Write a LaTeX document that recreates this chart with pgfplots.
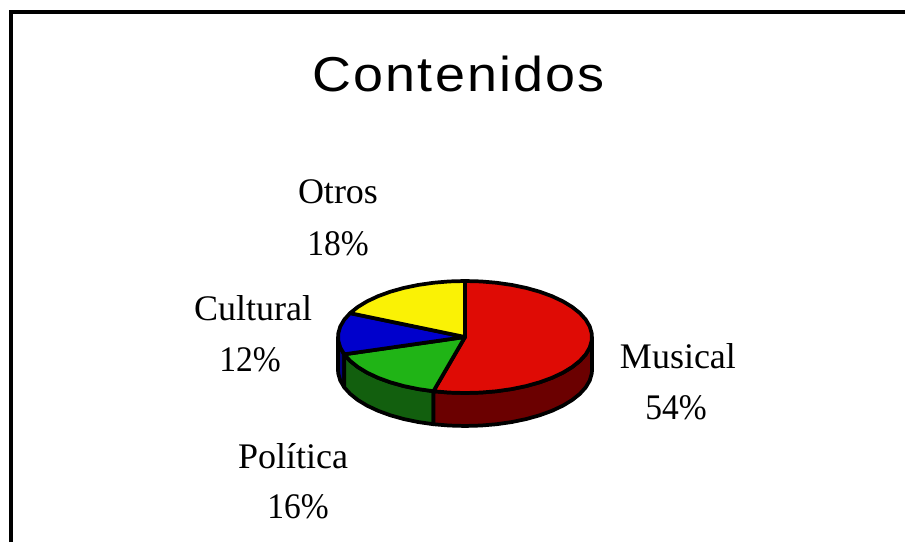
\documentclass[border=0pt]{standalone}
\usepackage{pgfplots}
\pgfplotsset{compat=1.18}
\usepackage{fontspec}
\setmainfont{Liberation Serif}
\newfontfamily\titlefont[LetterSpace=4]{Liberation Sans}
\definecolor{cMus}{HTML}{DF0B05}
\definecolor{cMusD}{HTML}{6B0000}
\definecolor{cPol}{HTML}{20B416}
\definecolor{cPolD}{HTML}{125F0E}
\definecolor{cCul}{HTML}{0000CC}
\definecolor{cCulD}{HTML}{000080}
\definecolor{cOtr}{HTML}{FAF205}
\begin{document}
\begin{tikzpicture}[every node/.style={inner sep=0pt,outer sep=0pt,text=black}]
\useasboundingbox (0,0) rectangle (678.75pt,406.5pt);
% The pie has unit radius in axis units; the axis is stretched to give the ellipse.
% Rim points are spaced 2% of the total apart, clockwise from the top.
\begin{axis}[
  at={(0,0)}, anchor=south west,
  scale only axis, width=678.75pt, height=406.5pt,
  xmin=-3.6614, xmax=3.4646, ymin=-3.6607, ymax=6.0179,
  hide axis, clip=true,
  pie/.style={draw=black, line width=2.8pt, line join=round, mark=none},
]
% Frame along the top and left
\addplot[draw=black, line width=3pt, mark=none, line join=miter] coordinates {(-3.5787,-3.6607) (-3.5787,5.8036) (3.4646,5.8036)};

% Side walls: Cultural, Politica, Musical
\addplot[pie, fill=cCulD] coordinates {(-.9511,-.3090) (-.9823,-.1874) (-.9980,-.0628) (-1,0) (-1,-.589) (-.9980,-.6518) (-.9823,-.7764) (-.9511,-.8980)} -- cycle;
\addplot[pie, fill=cPolD] coordinates {(-.2487,-.9686) (-.3681,-.9298) (-.4818,-.8763) (-.5878,-.8090) (-.6845,-.7290) (-.7705,-.6374) (-.8443,-.5358) (-.9048,-.4258) (-.9511,-.3090) (-.9511,-.8980) (-.9048,-1.0148) (-.8443,-1.1248) (-.7705,-1.2264) (-.6845,-1.3180) (-.5878,-1.3980) (-.4818,-1.4653) (-.3681,-1.5188) (-.2487,-1.5576)} -- cycle;
\addplot[pie, fill=cMusD] coordinates {(1,0) (.9980,-.0628) (.9823,-.1874) (.9511,-.3090) (.9048,-.4258) (.8443,-.5358) (.7705,-.6374) (.6845,-.7290) (.5878,-.8090) (.4818,-.8763) (.3681,-.9298) (.2487,-.9686) (.1253,-.9921) (0,-1) (-.1253,-.9921) (-.2487,-.9686) (-.2487,-1.5576) (-.1253,-1.5811) (0,-1.589) (.1253,-1.5811) (.2487,-1.5576) (.3681,-1.5188) (.4818,-1.4653) (.5878,-1.3980) (.6845,-1.3180) (.7705,-1.2264) (.8443,-1.1248) (.9048,-1.0148) (.9511,-.8980) (.9823,-.7764) (.9980,-.6518) (1,-.589)} -- cycle;

% Top faces
% Musical 54%
\addplot[pie, fill=cMus] coordinates {(0,0) (0,1) (.1253,.9921) (.2487,.9686) (.3681,.9298) (.4818,.8763) (.5878,.8090) (.6845,.7290) (.7705,.6374) (.8443,.5358) (.9048,.4258) (.9511,.3090) (.9823,.1874) (.9980,.0628) (.9980,-.0628) (.9823,-.1874) (.9511,-.3090) (.9048,-.4258) (.8443,-.5358) (.7705,-.6374) (.6845,-.7290) (.5878,-.8090) (.4818,-.8763) (.3681,-.9298) (.2487,-.9686) (.1253,-.9921) (0,-1) (-.1253,-.9921) (-.2487,-.9686)} -- cycle;
% Politica 16%
\addplot[pie, fill=cPol] coordinates {(0,0) (-.2487,-.9686) (-.3681,-.9298) (-.4818,-.8763) (-.5878,-.8090) (-.6845,-.7290) (-.7705,-.6374) (-.8443,-.5358) (-.9048,-.4258) (-.9511,-.3090)} -- cycle;
% Cultural 12%
\addplot[pie, fill=cCul] coordinates {(0,0) (-.9511,-.3090) (-.9823,-.1874) (-.9980,-.0628) (-.9980,.0628) (-.9823,.1874) (-.9511,.3090) (-.9048,.4258)} -- cycle;
% Otros 18%
\addplot[pie, fill=cOtr] coordinates {(0,0) (-.9048,.4258) (-.8443,.5358) (-.7705,.6374) (-.6845,.7290) (-.5878,.8090) (-.4818,.8763) (-.3681,.9298) (-.2487,.9686) (-.1253,.9921) (0,1)} -- cycle;

% Title and slice labels
\node[font=\titlefont\fontsize{36.75pt}{44pt}\selectfont] at (axis cs:-.05,4.688) {\scalebox{1.1}[1]{Contenidos}};
\def\lab#1#2#3{\node[font=\fontsize{27pt}{30pt}\selectfont] at (axis cs:#1,#2) {#3};}
\def\pct#1#2#3{\lab{#1}{#2}{\scalebox{.93}[1]{#3}}}
\lab{1.677}{-.339}{Musical}
\pct{1.661}{-1.268}{54\%}
\lab{-1.0}{2.589}{Otros}
\pct{-1.0}{1.661}{18\%}
\lab{-1.669}{.518}{Cultural}
\pct{-1.693}{-.411}{12\%}
\lab{-1.354}{-2.125}{Política}
\pct{-1.315}{-3.036}{16\%}
\end{axis}
\end{tikzpicture}
\end{document}
